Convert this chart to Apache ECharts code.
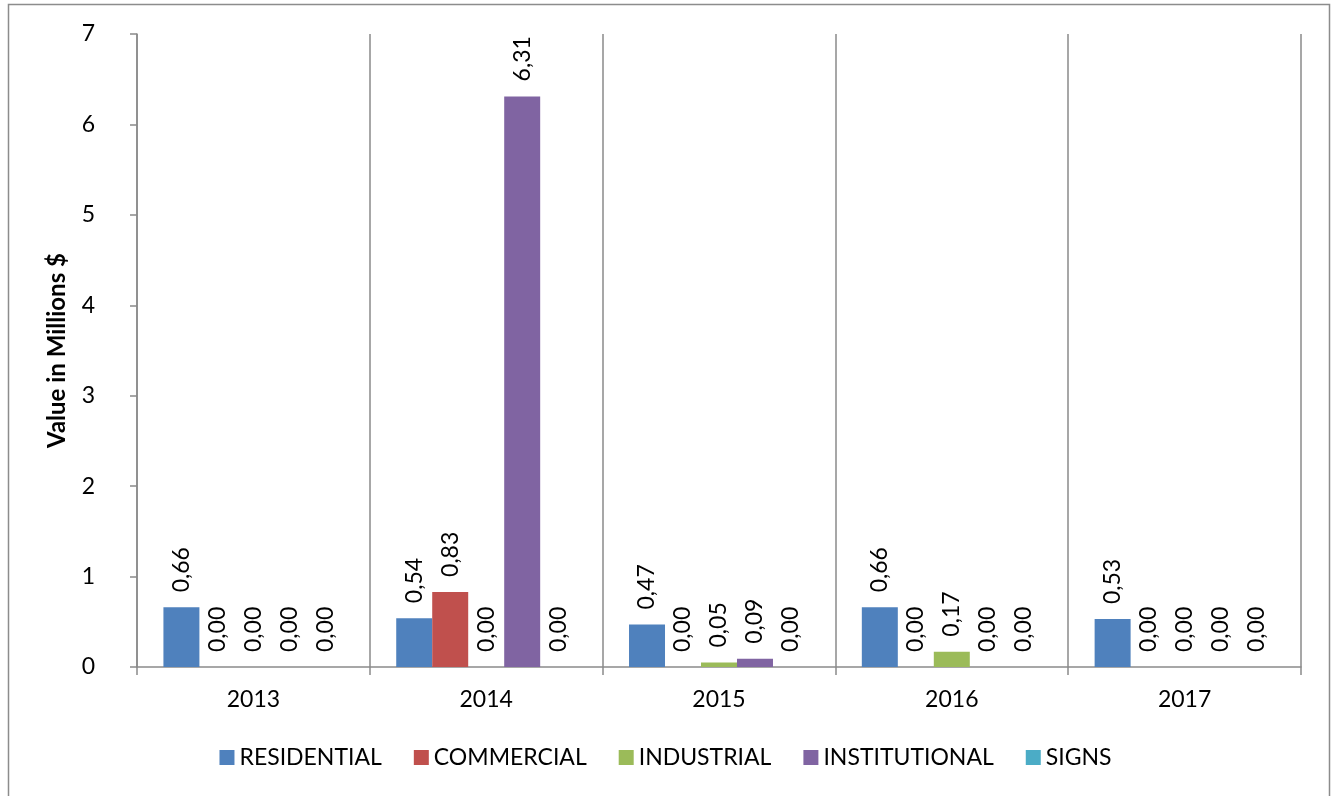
<!DOCTYPE html>
<html>
<head>
<meta charset="utf-8">
<title>Value in Millions $</title>
<script src="https://cdn.jsdelivr.net/npm/echarts@6/dist/echarts.min.js"></script>
<style>
  html, body { margin: 0; padding: 0; background: #fff; }
  #chart { width: 1331px; height: 796px; }
</style>
</head>
<body>
<div id="chart"></div>
<script>
// Yearly values (millions of dollars) by permit type
const years = ['2013', '2014', '2015', '2016', '2017'];
const residential   = [0.66, 0.54, 0.47, 0.66, 0.53];
const commercial    = [0.00, 0.83, 0.00, 0.00, 0.00];
const industrial    = [0.00, 0.00, 0.05, 0.17, 0.00];
const institutional = [0.00, 6.31, 0.09, 0.00, 0.00];
const signs         = [0.00, 0.00, 0.00, 0.00, 0.00];
const yTicks = [0, 1, 2, 3, 4, 5, 6, 7];

const FONT = "Lato, 'Open Sans', 'Liberation Sans', sans-serif";
const AXIS_GRAY = '#8a8a8a';

const seriesDefs = [
  { name: 'RESIDENTIAL',   data: residential,   color: '#4F81BD' },
  { name: 'COMMERCIAL',    data: commercial,    color: '#C0504D' },
  { name: 'INDUSTRIAL',    data: industrial,    color: '#9BBB59' },
  { name: 'INSTITUTIONAL', data: institutional, color: '#8064A2' },
  { name: 'SIGNS',         data: signs,         color: '#4BACC6' }
];

const chart = echarts.init(document.getElementById('chart'), null, { renderer: 'canvas' });

chart.setOption({
  animation: false,
  backgroundColor: '#ffffff',
  textStyle: { fontFamily: FONT },
  graphic: [{
    type: 'rect',
    silent: true,
    shape: { x: 8.5, y: 4.5, width: 1321, height: 820 },
    style: { fill: 'none', stroke: '#8c8c8c', lineWidth: 1.5 }
  }],
  grid: { left: 137, right: 30, top: 34, bottom: 129, containLabel: false },
  legend: {
    bottom: 22,
    left: 'center',
    itemWidth: 15,
    itemHeight: 15,
    itemGap: 32,
    icon: 'rect',
    textStyle: { fontFamily: FONT, fontSize: 23, color: '#000' },
    data: seriesDefs.map(s => s.name)
  },
  xAxis: {
    type: 'category',
    data: years,
    axisLine: { show: true, lineStyle: { color: AXIS_GRAY, width: 1.5 } },
    axisTick: { show: true, length: 8, lineStyle: { color: AXIS_GRAY, width: 1.5 } },
    splitLine: { show: true, lineStyle: { color: AXIS_GRAY, width: 1.5 } },
    axisLabel: { fontFamily: FONT, fontSize: 23, color: '#000', margin: 21 }
  },
  yAxis: {
    type: 'value',
    min: yTicks[0],
    max: yTicks[yTicks.length - 1],
    interval: 1,
    name: 'Value in Millions $',
    nameLocation: 'middle',
    nameGap: 68,
    nameTextStyle: { fontFamily: FONT, fontSize: 24, fontWeight: 'bold', color: '#000' },
    axisLine: { show: true, lineStyle: { color: AXIS_GRAY, width: 1.5 } },
    axisTick: { show: true, length: 7, lineStyle: { color: AXIS_GRAY, width: 1.5 } },
    splitLine: { show: false },
    axisLabel: { fontFamily: FONT, fontSize: 23, color: '#000', margin: 42 }
  },
  series: seriesDefs.map(s => ({
    name: s.name,
    type: 'bar',
    data: s.data,
    barGap: '0%',
    barCategoryGap: '22.7%',
    itemStyle: { color: s.color },
    label: {
      show: true,
      position: 'top',
      rotate: 90,
      align: 'left',
      verticalAlign: 'middle',
      distance: 15,
      fontFamily: FONT,
      fontSize: 23,
      color: '#000',
      formatter: p => p.value.toFixed(2).replace('.', ',')
    }
  }))
});
</script>
</body>
</html>
